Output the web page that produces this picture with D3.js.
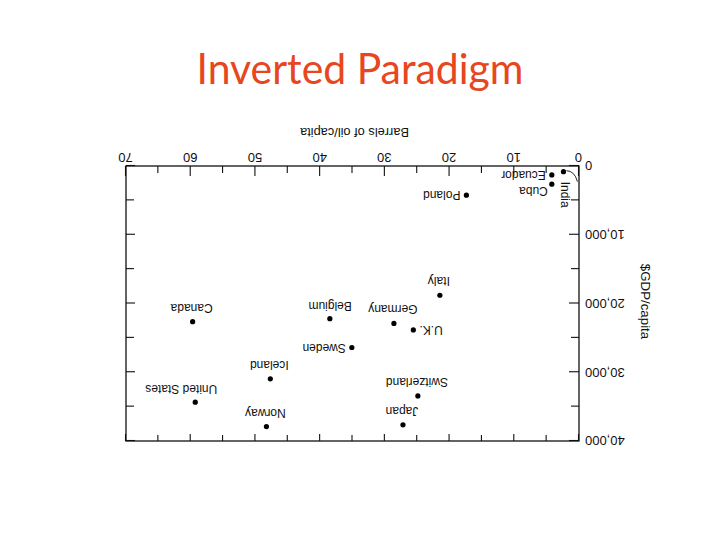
<!DOCTYPE html>
<html>
<head>
<meta charset="utf-8">
<script src="https://cdn.jsdelivr.net/npm/d3@7"></script>
<style>body{margin:0;background:#fff}</style>
</head>
<body>
<svg width="720" height="540"></svg>
<script>
var countries = ["India","Ecuador","Cuba","Poland","Italy","U.K.","Germany","Belgium","Canada","Sweden","Iceland","United States","Norway","Japan","Switzerland"];
var barrels = [2.4,4.2,4.2,17.4,21.5,25.6,28.6,38.5,59.7,35.1,47.7,59.3,48.3,27.2,24.9];
var gdp = [830,1300,2650,4250,18800,23850,22900,22200,22650,26400,30950,34350,37900,37650,33450];
var placement = ["down","left","sw","left","above","right","above","nw","above","left","above","nw","above","above","above"];
var xTicks = [0,10,20,30,40,50,60,70];
var xMinor = [5,15,25,35,45,55,65];
var yTicks = [0,10000,20000,30000,40000];
var yMinor = [5000,15000,25000,35000];

var svg = d3.select("svg");
var font = "Liberation Sans, Arial, sans-serif";

svg.append("text")
  .attr("x", 360).attr("y", 84)
  .attr("text-anchor", "middle")
  .attr("font-family", "Lato, sans-serif")
  .attr("font-size", 43)
  .attr("textLength", 327).attr("lengthAdjust", "spacingAndGlyphs")
  .attr("fill", "#e8461e")
  .text("Inverted Paradigm");

var plotL = 126, plotR = 579, plotT = 166, plotB = 441;

// the chart is drawn the normal way and then turned upside down
var g = svg.append("g")
  .attr("transform", "translate(" + (plotL + plotR) + "," + (plotT + plotB) + ") rotate(180)");

var x = d3.scaleLinear().domain([0, 70]).range([plotL, plotR]);
var y = d3.scaleLinear().domain([0, 40000]).range([plotB, plotT]);

function axis(a, tx, ty, vals, size, fmt, pad) {
  var s = g.append("g")
    .attr("transform", "translate(" + tx + "," + ty + ")")
    .call(a.tickValues(vals).tickSizeInner(-size).tickSizeOuter(0).tickPadding(pad || 5).tickFormat(fmt));
  s.select(".domain").remove();
  s.selectAll("line").attr("stroke", "#111").attr("stroke-width", 1.1);
  s.selectAll("text").attr("font-family", font).attr("font-size", 13).attr("fill", "#111");
  return s;
}
var none = function() { return ""; };

axis(d3.axisBottom(x), 0, plotB, xTicks, 10, d3.format("d"), 4);
axis(d3.axisBottom(x), 0, plotB, xMinor, 7, none);
axis(d3.axisTop(x), 0, plotT, xTicks, 7, none);
axis(d3.axisTop(x), 0, plotT, xMinor, 6, none);
axis(d3.axisLeft(y), plotL, 0, yTicks, 10, d3.format(","), 6);
axis(d3.axisLeft(y), plotL, 0, yMinor, 8, none);
axis(d3.axisRight(y), plotR, 0, yTicks, 9, none);
axis(d3.axisRight(y), plotR, 0, yMinor, 8, none);

g.append("rect")
  .attr("x", plotL).attr("y", plotT)
  .attr("width", plotR - plotL).attr("height", plotB - plotT)
  .attr("fill", "none").attr("stroke", "#111").attr("stroke-width", 1.3);

g.append("text")
  .attr("x", (plotL + plotR) / 2 - 2).attr("y", plotB + 34)
  .attr("text-anchor", "middle").attr("dominant-baseline", "central")
  .attr("font-family", font).attr("font-size", 12.8).attr("fill", "#111")
  .text("Barrels of oil/capita");

g.append("text")
  .attr("transform", "translate(" + (plotL - 66) + "," + ((plotT + plotB) / 2 + 2) + ") rotate(-90)")
  .attr("text-anchor", "middle").attr("dominant-baseline", "central")
  .attr("font-family", font).attr("font-size", 13.3).attr("fill", "#111")
  .text("$GDP/capita");

var pts = countries.map(function(c, i) {
  return { name: c, bx: x(barrels[i]), gy: y(gdp[i]), place: placement[i] };
});

g.selectAll("circle.pt").data(pts).enter().append("circle")
  .attr("class", "pt")
  .attr("cx", function(d) { return d.bx; })
  .attr("cy", function(d) { return d.gy; })
  .attr("r", 2.6)
  .attr("fill", "#000");

// offsets are given as seen on the page (after the turn), so they are negated here
var place = {
  above: { dx: -1, dy: -14, anchor: "middle" },
  left:  { dx: -6, dy: 0, anchor: "end" },
  sw:    { dx: -4, dy: 7, anchor: "end" },
  right: { dx: 6, dy: 0, anchor: "start" },
  nw:    { dx: 22, dy: -13, anchor: "end" }
};
var flip = { start: "end", end: "start", middle: "middle" };

g.selectAll("text.lbl").data(pts.filter(function(d) { return d.place !== "down"; })).enter().append("text")
  .attr("class", "lbl")
  .attr("x", function(d) { return d.bx - place[d.place].dx; })
  .attr("y", function(d) { return d.gy - place[d.place].dy; })
  .attr("text-anchor", function(d) { return flip[place[d.place].anchor]; })
  .attr("dominant-baseline", "central")
  .attr("font-family", font).attr("font-size", 12).attr("fill", "#111")
  .text(function(d) { return d.name; });

// India sits in the corner, written sideways with a little leader
pts.filter(function(d) { return d.place === "down"; }).forEach(function(d) {
  g.append("path")
    .attr("d", "M" + (d.bx - 3) + "," + (d.gy + 1) + " Q" + (d.bx - 11) + "," + (d.gy + 1) + " " + (d.bx - 14) + "," + (d.gy - 10))
    .attr("fill", "none").attr("stroke", "#111").attr("stroke-width", 0.9);
  g.append("text")
    .attr("transform", "translate(" + (d.bx - 2) + "," + (d.gy - 23) + ") rotate(-90)")
    .attr("text-anchor", "middle").attr("dominant-baseline", "central")
    .attr("font-family", font).attr("font-size", 12).attr("fill", "#111")
    .text(d.name);
});
</script>
</body>
</html>
